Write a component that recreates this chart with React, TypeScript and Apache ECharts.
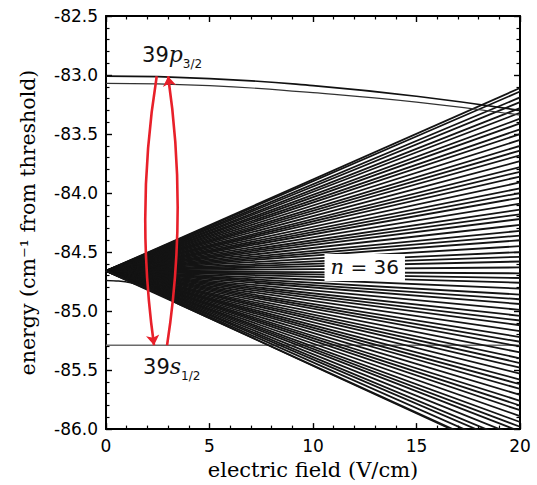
import React, { useEffect, useRef } from "react";
import * as echarts from "echarts";

// ---- data ----
const fieldRange = [0, 20]; // V/cm
const energyRange = [-86.0, -82.5]; // cm^-1
const xTickStep = 5;
const yTickStep = 0.5;

// hydrogenic n = 36 manifold: all levels start here at zero field
const manifoldZeroFieldEnergy = -84.66;
// energy of each manifold level at 20 V/cm
const manifoldEndEnergy = [
  -83.11, -83.14, -83.19, -83.23, -83.28, -83.32, -83.37, -83.41, -83.46, -83.5,
  -83.55, -83.6, -83.64, -83.68, -83.73, -83.78, -83.82, -83.86, -83.91, -83.96,
  -84.0, -84.04, -84.09, -84.14, -84.18, -84.22, -84.27, -84.32, -84.36, -84.4,
  -84.45, -84.5, -84.54, -84.58, -84.63, -84.68, -84.72, -84.76, -84.81, -84.86,
  -84.9, -84.94, -84.99, -85.04, -85.08, -85.12, -85.17, -85.22, -85.26, -85.3,
  -85.35, -85.4, -85.44, -85.48, -85.53, -85.58, -85.62, -85.66, -85.71, -85.76,
  -85.8, -85.84, -85.89, -85.94, -85.98, -86.02, -86.07, -86.12, -86.16, -86.21,
  -86.26,
];

// low-l level that bends into the bottom of the manifold
const lowStateField = [0, 0.6, 1.2, 1.8, 2.5, 3.5, 20];
const lowStateEnergy = [-84.74, -84.745, -84.76, -84.79, -84.85, -84.94, -86.27];

// 39p3/2 levels
const pField = [0, 5, 10, 15, 20];
const pUpperEnergy = [-83.01, -83.03, -83.09, -83.18, -83.3];
const pLowerEnergy = [-83.07, -83.09, -83.15, -83.23, -83.34];

// 39s1/2 level
const sField = [0, 20];
const sEnergy = [-85.29, -85.29];

// red transition arrows: [fromField, fromEnergy, toField, toEnergy]
const arrowDown = [2.45, -83.01, 2.32, -85.29];
const arrowUp = [2.95, -85.29, 3.0, -83.01];

// annotations
const pLabelPos = [1.74, -82.83];
const sLabelPos = [1.79, -85.47];
const nLabelPos = [12.5, -84.63];

const SANS = "'DejaVu Sans', sans-serif";
const SERIF = "'DejaVu Serif', serif";

export default function App() {
  const ref = useRef<HTMLDivElement>(null);

  useEffect(() => {
    const chart = echarts.init(ref.current!, null, { renderer: "svg" });

    const axisCommon = {
      type: "value" as const,
      axisLine: { show: true, onZero: false, lineStyle: { color: "#000", width: 2 } },
      axisTick: { show: true, inside: true, length: 6, lineStyle: { color: "#000", width: 1.4 } },
      minorTick: { show: true, splitNumber: 5, length: 3.5, lineStyle: { color: "#000", width: 1.2 } },
      splitLine: { show: false },
    };

    const manifoldSeries = manifoldEndEnergy.map((e) => ({
      type: "line",
      data: [
        [fieldRange[0], manifoldZeroFieldEnergy],
        [fieldRange[1], e],
      ],
      showSymbol: false,
      silent: true,
      lineStyle: { color: "#141414", width: 1.8 },
      z: 3,
    }));

    const subRich = {
      a: { fontSize: 21, fontFamily: SANS, color: "#111", lineHeight: 30 },
      i: { fontSize: 22, fontFamily: SERIF, fontStyle: "italic", color: "#111", lineHeight: 30 },
      s: { fontSize: 12, fontFamily: SANS, color: "#111", lineHeight: 12, verticalAlign: "bottom" },
    };

    const option: any = {
      animation: false,
      backgroundColor: "#fff",
      grid: { left: 106, right: 17, top: 16, bottom: 54, containLabel: false },
      xAxis: [
        {
          ...axisCommon,
          position: "bottom",
          min: fieldRange[0],
          max: fieldRange[1],
          interval: xTickStep,
          axisLabel: { color: "#000", fontSize: 17, fontFamily: SANS, margin: 8 },
          name: "electric field (V/cm)",
          nameLocation: "middle",
          nameGap: 26,
          nameTextStyle: { color: "#000", fontSize: 21, fontFamily: SERIF },
        },
        {
          ...axisCommon,
          position: "top",
          min: fieldRange[0],
          max: fieldRange[1],
          interval: xTickStep,
          axisLabel: { show: false },
        },
      ],
      yAxis: [
        {
          ...axisCommon,
          position: "left",
          min: energyRange[0],
          max: energyRange[1],
          interval: yTickStep,
          axisLabel: {
            color: "#000",
            fontSize: 17,
            fontFamily: SANS,
            margin: 8,
            formatter: (v: number) => v.toFixed(1),
          },
          name: "energy (cm⁻¹ from threshold)",
          nameLocation: "middle",
          nameGap: 68,
          nameTextStyle: { color: "#000", fontSize: 20.5, fontFamily: SERIF },
        },
        {
          ...axisCommon,
          position: "right",
          min: energyRange[0],
          max: energyRange[1],
          interval: yTickStep,
          axisLabel: { show: false },
        },
      ],
      series: [
        {
          type: "line",
          data: sField.map((f, i) => [f, sEnergy[i]]),
          showSymbol: false,
          silent: true,
          lineStyle: { color: "#6a6a6a", width: 1.4 },
          z: 2,
        },
        ...manifoldSeries,
        {
          type: "line",
          data: lowStateField.map((f, i) => [f, lowStateEnergy[i]]),
          smooth: 0.3,
          showSymbol: false,
          silent: true,
          lineStyle: { color: "#141414", width: 1.5 },
          z: 3,
        },
        {
          type: "line",
          data: pField.map((f, i) => [f, pUpperEnergy[i]]),
          smooth: true,
          showSymbol: false,
          silent: true,
          lineStyle: { color: "#111", width: 1.7 },
          z: 4,
        },
        {
          type: "line",
          data: pField.map((f, i) => [f, pLowerEnergy[i]]),
          smooth: true,
          showSymbol: false,
          silent: true,
          lineStyle: { color: "#333", width: 1.2 },
          z: 4,
        },
        {
          type: "lines",
          coordinateSystem: "cartesian2d",
          silent: true,
          symbol: ["none", "arrow"],
          symbolSize: 10,
          lineStyle: { color: "#e8202a", width: 2.6, curveness: -0.075, opacity: 1 },
          data: [
            { coords: [[arrowDown[0], arrowDown[1]], [arrowDown[2], arrowDown[3]]] },
            { coords: [[arrowUp[0], arrowUp[1]], [arrowUp[2], arrowUp[3]]] },
          ],
          z: 6,
        },
        {
          type: "scatter",
          symbolSize: 0,
          silent: true,
          itemStyle: { opacity: 1 },
          z: 7,
          data: [
            {
              value: pLabelPos,
              label: {
                show: true,
                position: "right",
                distance: 0,
                formatter: "{a|39}{i|p}{s|3/2}",
                rich: subRich,
              },
            },
            {
              value: sLabelPos,
              label: {
                show: true,
                position: "right",
                distance: 0,
                formatter: "{a|39}{i|s}{s|1/2}",
                rich: subRich,
              },
            },
            {
              value: nLabelPos,
              label: {
                show: true,
                position: "inside",
                backgroundColor: "#fff",
                padding: [3, 6, 3, 6],
                formatter: "{i|n}{r| = 36}",
                rich: {
                  i: { fontSize: 21, fontFamily: SERIF, fontStyle: "italic", color: "#111" },
                  r: { fontSize: 20, fontFamily: SANS, color: "#111" },
                },
              },
            },
          ],
        },
      ],
    };

    chart.setOption(option);
    return () => chart.dispose();
  }, []);

  return (
    <div
      ref={ref}
      style={{ position: "fixed", left: 0, top: 0, width: 537, height: 485, background: "#fff" }}
    />
  );
}
